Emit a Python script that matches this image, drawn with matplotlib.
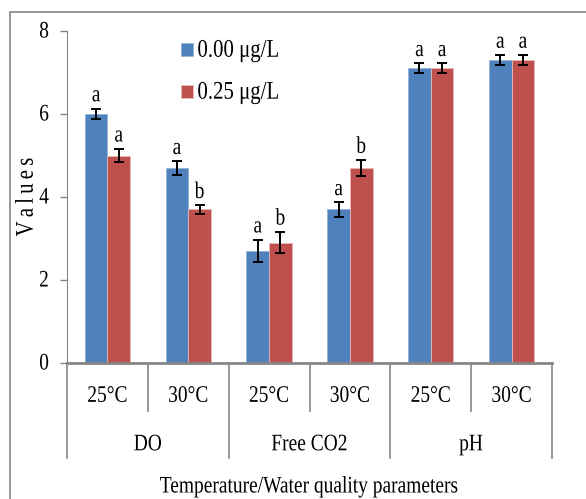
import numpy as np
import matplotlib
matplotlib.use("Agg")
import matplotlib.pyplot as plt
from matplotlib.patches import Rectangle
from matplotlib import patheffects
from matplotlib.transforms import Affine2D

plt.rcParams["font.family"] = ["Liberation Serif", "DejaVu Serif"]

params = ["DO", "Free CO2", "pH"]
temps = ["25°C", "30°C", "25°C", "30°C", "25°C", "30°C"]
series = ["0.00 μg/L", "0.25 μg/L"]
vals_0 = [6.0, 4.7, 2.7, 3.7, 7.1, 7.3]
vals_25 = [5.0, 3.7, 2.9, 4.7, 7.1, 7.3]
err_0 = [0.13, 0.16, 0.27, 0.17, 0.12, 0.12]
err_25 = [0.16, 0.10, 0.26, 0.19, 0.12, 0.12]
let_0 = ["a", "a", "a", "a", "a", "a"]
let_25 = ["a", "b", "b", "b", "a", "a"]

blue = "#4F81BD"
red = "#C0504D"
gray = "#868686"


class Stretch(patheffects.AbstractPathEffect):
    # the original text looks like a tall, narrow Times
    def __init__(self, sy=1.22):
        super().__init__()
        self.sy = sy

    def draw_path(self, renderer, gc, tpath, affine, rgbFace=None):
        renderer.draw_path(gc, tpath, Affine2D().scale(1, self.sy) + affine,
                           rgbFace)


tall = [Stretch()]

fig = plt.figure(figsize=(5.86, 4.99), dpi=100)
ax = fig.add_axes([67 / 586, 1 - 363 / 499, 485 / 586, 332 / 499])

# outer border of the chart area
fig.patches.append(Rectangle((10 / 586, -0.2), 1.2, 1.2 - 12 / 499,
                             transform=fig.transFigure, fill=False,
                             edgecolor=gray, linewidth=1.2))

x = np.arange(len(temps)) + 0.5
w = 0.28
ax.bar(x - w / 2, vals_0, w, color=blue, edgecolor="#95B3D7", linewidth=0.6,
       label=series[0], zorder=2)
ax.bar(x + w / 2, vals_25, w, color=red, edgecolor="#E6B9B8", linewidth=0.6,
       label=series[1], zorder=2)
ax.errorbar(x - w / 2, vals_0, yerr=err_0, fmt="none", ecolor="black",
            elinewidth=1.4, capsize=3.5, capthick=1.4, zorder=3)
ax.errorbar(x + w / 2, vals_25, yerr=err_25, fmt="none", ecolor="black",
            elinewidth=1.4, capsize=3.5, capthick=1.4, zorder=3)

for xi, v, e, t in zip(x - w / 2, vals_0, err_0, let_0):
    ax.text(xi, v + e + 0.08, t, ha="center", va="bottom", fontsize=14,
            path_effects=tall)
for xi, v, e, t in zip(x + w / 2, vals_25, err_25, let_25):
    ax.text(xi, v + e + 0.08, t, ha="center", va="bottom", fontsize=14,
            path_effects=tall)

ax.set_xlim(0, 6)
ax.set_ylim(0, 8)
ax.set_yticks([0, 2, 4, 6, 8])
ax.tick_params(axis="y", direction="out", length=5, width=1, color=gray,
               labelsize=14, pad=8)
for lab in ax.get_yticklabels():
    lab.set_path_effects(tall)
ax.set_xticks([])
for s in ["top", "right"]:
    ax.spines[s].set_visible(False)
ax.spines["left"].set_color(gray)
ax.spines["bottom"].set_color(gray)
ax.spines["bottom"].set_linewidth(2)

# category axis separators and labels
tr = ax.get_xaxis_transform()
for i in range(7):
    bottom = -0.286 if i % 2 == 0 else -0.145
    ax.plot([i, i], [0, bottom], color=gray, linewidth=1.2, transform=tr,
            clip_on=False)
for xi, t in zip(x, temps):
    ax.text(xi, -0.117, t, transform=tr, ha="center", va="baseline",
            fontsize=14, path_effects=tall)
for i, p in enumerate(params):
    ax.text(2 * i + 1, -0.263, p, transform=tr, ha="center", va="baseline",
            fontsize=14, path_effects=tall)
ax.text(3, -0.39, "Temperature/Water quality parameters", transform=tr,
        ha="center", va="baseline", fontsize=14, path_effects=tall)

ax.set_ylabel("V\u2009a\u2009l\u2009u\u2009e\u2009s", fontsize=15,
              labelpad=1, path_effects=tall)

leg = ax.legend(loc="upper left", bbox_to_anchor=(162 / 586, 1 - 24 / 499),
                bbox_transform=fig.transFigure, frameon=False, fontsize=15,
                handlelength=0.6, handleheight=0.6, handletextpad=0.2,
                labelspacing=1.1)
for t in leg.get_texts():
    t.set_path_effects(tall)

fig.savefig("out.png", dpi=100)
